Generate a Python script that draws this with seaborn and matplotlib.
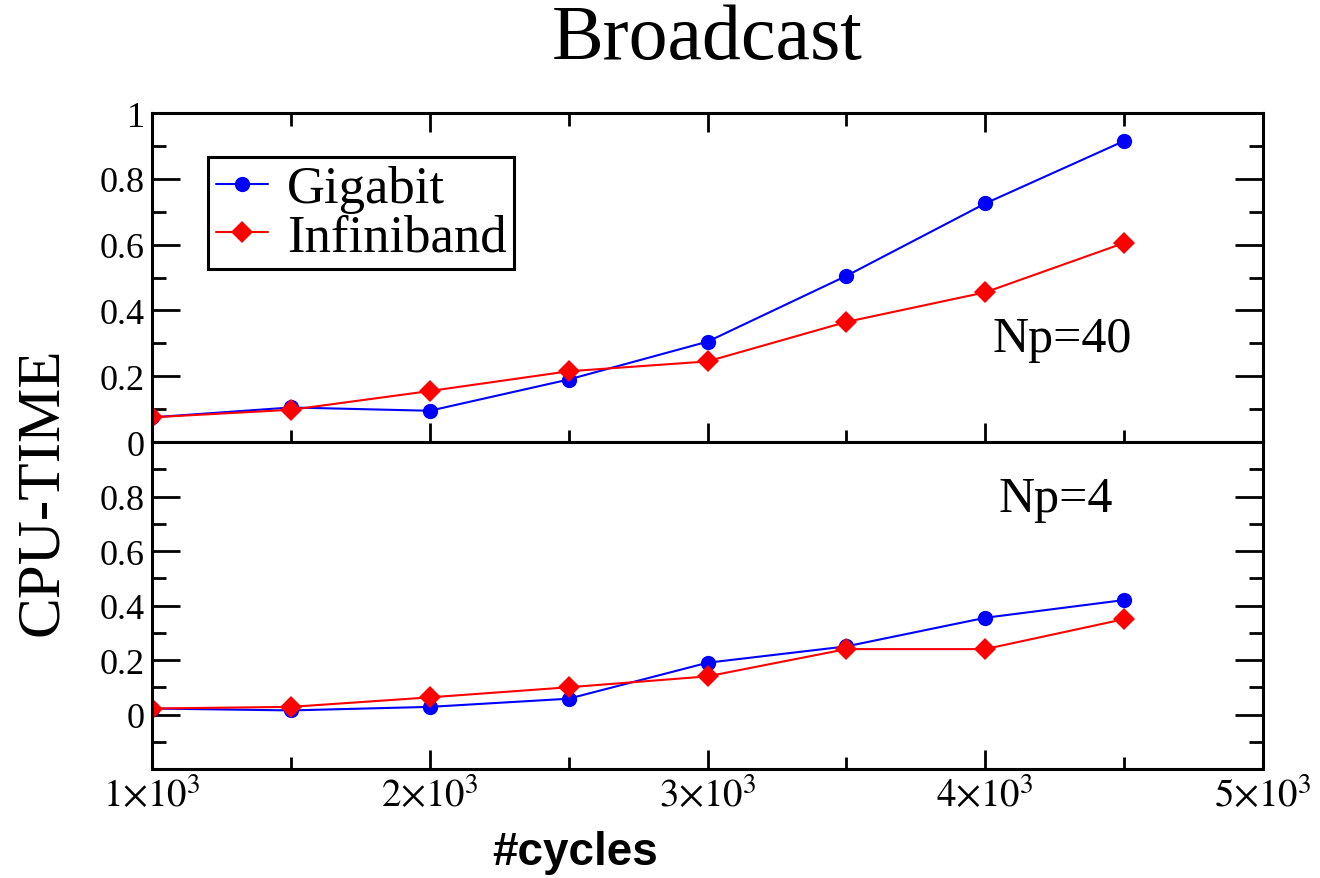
import matplotlib
matplotlib.use("Agg")
import pandas as pd
import seaborn as sns
import matplotlib.pyplot as plt
from matplotlib.ticker import FixedLocator, MultipleLocator

# data
cycles = [1000, 1500, 2000, 2500, 3000, 3500, 4000, 4500]
giga_np40 = [0.075, 0.105, 0.095, 0.19, 0.305, 0.505, 0.725, 0.915]
infi_np40 = [0.075, 0.098, 0.155, 0.215, 0.245, 0.365, 0.455, 0.605]
giga_np4 = [0.022, 0.015, 0.028, 0.058, 0.19, 0.25, 0.355, 0.42]
infi_np4 = [0.022, 0.028, 0.063, 0.10, 0.14, 0.24, 0.24, 0.35]

x_ticks = [1000, 2000, 3000, 4000, 5000]
x_labels = [r"$1{\times}10^{3}$", r"$2{\times}10^{3}$", r"$3{\times}10^{3}$",
            r"$4{\times}10^{3}$", r"$5{\times}10^{3}$"]
top_yticks = [0, 0.2, 0.4, 0.6, 0.8, 1.0]
top_ylabels = ["0", "0.2", "0.4", "0.6", "0.8", "1"]
bot_yticks = [0, 0.2, 0.4, 0.6, 0.8]
bot_ylabels = ["0", "0.2", "0.4", "0.6", "0.8"]

colors = {"Gigabit": "#0000ff", "Infiniband": "#ff0000"}
marks = {"Gigabit": "o", "Infiniband": "D"}


def make_df(giga, infi):
    return pd.DataFrame({
        "cycles": cycles + cycles,
        "time": giga + infi,
        "network": ["Gigabit"] * len(cycles) + ["Infiniband"] * len(cycles),
    })


sns.set_style("white")
plt.rcParams["font.family"] = ["Liberation Serif", "DejaVu Serif"]
plt.rcParams["mathtext.fontset"] = "stix"
plt.rcParams["text.color"] = "black"
plt.rcParams["xtick.color"] = "black"
plt.rcParams["ytick.color"] = "black"
plt.rcParams["axes.labelcolor"] = "black"

fig = plt.figure(figsize=(13.2, 8.79), dpi=100)
ax_top = fig.add_axes([0.1152, 0.4960, 0.8416, 0.3743])
ax_bot = fig.add_axes([0.1152, 0.1240, 0.8416, 0.3720])

for ax, df in [(ax_top, make_df(giga_np40, infi_np40)), (ax_bot, make_df(giga_np4, infi_np4))]:
    sns.lineplot(data=df, x="cycles", y="time", hue="network", style="network",
                 markers=marks, dashes=False, palette=colors, ax=ax,
                 linewidth=1.5, markersize=11, markeredgewidth=0, legend=(ax is ax_top))
    ax.set_xlim(1000, 5000)
    ax.xaxis.set_major_locator(FixedLocator(x_ticks))
    ax.xaxis.set_minor_locator(MultipleLocator(500))
    ax.set_xlabel("")
    ax.set_ylabel("")
    for s in ax.spines.values():
        s.set_linewidth(2.2)
        s.set_color("black")
    ax.tick_params(axis="both", which="both", direction="in", width=2.0, color="black",
                   labelsize=26, labelcolor="black", pad=5)
    ax.tick_params(axis="y", which="major", length=20, right=True, left=True)
    ax.tick_params(axis="y", which="minor", length=10, right=True, left=True)
    ax.tick_params(axis="x", which="major", length=14)
    ax.tick_params(axis="x", which="minor", length=9)

# top panel (Np=40)
ax_top.set_ylim(0, 1)
ax_top.set_yticks(top_yticks)
ax_top.set_yticklabels(top_ylabels)
ax_top.yaxis.set_minor_locator(FixedLocator([0.1, 0.3, 0.5, 0.7, 0.9]))
ax_top.tick_params(axis="x", which="both", top=True, bottom=True, labelbottom=False)
ax_top.text(0.819, 0.313, "Np=40", transform=ax_top.transAxes, fontsize=36,
            ha="center", va="center")

handles, labels = ax_top.get_legend_handles_labels()
leg = ax_top.legend(handles, labels, loc="upper left", bbox_to_anchor=(0.05, 0.866),
                    borderaxespad=0, fontsize=38, handlelength=1.0, handletextpad=0.35,
                    labelspacing=0.0, borderpad=0.15, fancybox=False, framealpha=1)
leg.get_frame().set_edgecolor("black")
leg.get_frame().set_linewidth(2.2)

# bottom panel (Np=4)
ax_bot.set_ylim(-0.2, 1.0)
ax_bot.set_yticks(bot_yticks)
ax_bot.set_yticklabels(bot_ylabels)
ax_bot.yaxis.set_minor_locator(FixedLocator([-0.1, 0.1, 0.3, 0.5, 0.7, 0.9]))
ax_bot.set_xticklabels(x_labels)
ax_bot.tick_params(axis="x", which="both", top=False, bottom=True, labelsize=28, pad=6)
ax_bot.text(0.813, 0.826, "Np=4", transform=ax_bot.transAxes, fontsize=36,
            ha="center", va="center")

fig.text(0.536, 1 - 40 / 879, "Broadcast", fontsize=56, ha="center", va="center")
fig.text(42 / 1320, 1 - 492 / 879, "CPU-TIME", fontsize=44, rotation=90,
         ha="center", va="center")
fig.text(575 / 1320, 1 - 853 / 879, "#cycles", fontsize=33, fontweight="bold",
         family="Liberation Sans", ha="center", va="center")

fig.savefig("out.png", dpi=100)
